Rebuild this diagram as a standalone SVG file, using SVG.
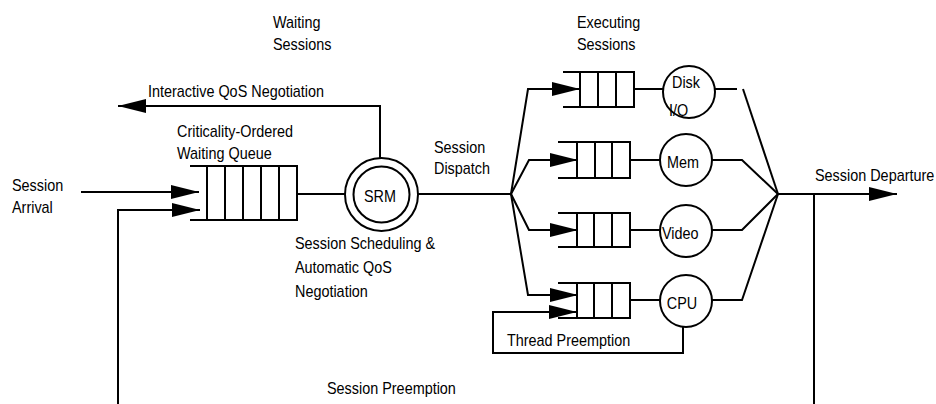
<svg xmlns="http://www.w3.org/2000/svg" width="936" height="404" viewBox="0 0 936 404">
<style>
  .ln{fill:none;stroke:#000;stroke-width:2}
  .q{fill:none;stroke:#000;stroke-width:2}
  .c{fill:#fff;stroke:#000;stroke-width:2}
  .t{font-family:"Liberation Sans",Arial,sans-serif;font-size:16px;fill:#000}
  .m{text-anchor:middle}
</style>
<defs>
  <marker id="ah" markerUnits="userSpaceOnUse" markerWidth="28" markerHeight="14" refX="28" refY="7" orient="auto">
    <path d="M0,0 L28,7 L0,14 z" fill="#000"/>
  </marker>
</defs>
<rect width="936" height="404" fill="#fff"/>

<g id="connectors">
  <path class="ln" d="M380,158 V106 H118" marker-end="url(#ah)"/>
  <path class="ln" d="M81,192 H199" marker-end="url(#ah)"/>
  <path class="ln" d="M118,404 V210 H200" marker-end="url(#ah)"/>
  <path class="ln" d="M297,194 H345"/>
  <path class="ln" d="M418,194 H511"/>
  <path class="ln" d="M511,194 L528,89 H580" marker-end="url(#ah)"/>
  <path class="ln" d="M511,194 L529,160 H578" marker-end="url(#ah)"/>
  <path class="ln" d="M511,194 L529,230 H578" marker-end="url(#ah)"/>
  <path class="ln" d="M511,194 L528,295 H578" marker-end="url(#ah)"/>
  <path class="ln" d="M634,89 H663"/>
  <path class="ln" d="M630,160 H660"/>
  <path class="ln" d="M630,230 H660"/>
  <path class="ln" d="M630,300 H660"/>
  <path class="ln" d="M715,89 H737"/>
  <path class="ln" d="M743,89 L778,194"/>
  <path class="ln" d="M712,160 H742 L778,194"/>
  <path class="ln" d="M712,230 H742 L778,194"/>
  <path class="ln" d="M712,300 H742 L778,194"/>
  <path class="ln" d="M778,194 H897" marker-end="url(#ah)"/>
  <path class="ln" d="M814,194 V404"/>
  <path class="ln" d="M683,327 V353 H493 V312 H577" marker-end="url(#ah)"/>
</g>

<g id="waiting-queue">
  <path class="q" d="M190,166 H297 V220 H190 M207,166 V220 M225,166 V220 M243,166 V220 M261,166 V220 M279,166 V220"/>
</g>

<g id="srm">
  <circle class="c" cx="381.5" cy="194.5" r="36.5"/>
  <circle class="c" cx="381.5" cy="194.5" r="28"/>
  <text class="t m" transform="translate(380 202) scale(0.9 1)">SRM</text>
</g>

<g id="queue-disk">
  <path class="q" d="M563,72 H634 V107 H563 M580,72 V107 M598,72 V107 M616,72 V107"/>
</g>
<g id="disk">
  <circle class="c" cx="689" cy="92" r="26"/>
  <text class="t" transform="translate(672 88) scale(0.9 1)">Disk</text>
  <text class="t" transform="translate(669 116) scale(0.9 1)">I/O</text>
</g>

<g id="queue-mem">
  <path class="q" d="M558,142 H630 V178 H558 M577,142 V178 M595,142 V178 M612,142 V178"/>
</g>
<g id="mem">
  <circle class="c" cx="686" cy="160" r="26"/>
  <text class="t m" transform="translate(683 168) scale(0.9 1)">Mem</text>
</g>

<g id="queue-video">
  <path class="q" d="M558,213 H630 V247 H558 M577,213 V247 M594,213 V247 M612,213 V247"/>
</g>
<g id="video">
  <circle class="c" cx="686" cy="231" r="26"/>
  <text class="t" transform="translate(662 239) scale(0.9 1)">Video</text>
</g>

<g id="queue-cpu">
  <path class="q" d="M558,283 H630 V318 H558 M577,283 V318 M594,283 V318 M612,283 V318"/>
</g>
<g id="cpu">
  <circle class="c" cx="686" cy="301" r="26"/>
  <text class="t m" transform="translate(682 309) scale(0.9 1)">CPU</text>
</g>

<g id="labels">
  <text class="t" transform="translate(273 28) scale(0.9 1)">Waiting</text>
  <text class="t" transform="translate(273 50) scale(0.9 1)">Sessions</text>
  <text class="t" transform="translate(148 97) scale(0.9 1)">Interactive QoS Negotiation</text>
  <text class="t" transform="translate(177 137) scale(0.9 1)">Criticality-Ordered</text>
  <text class="t" transform="translate(177 159) scale(0.9 1)">Waiting Queue</text>
  <text class="t" transform="translate(12 191) scale(0.9 1)">Session</text>
  <text class="t" transform="translate(12 213) scale(0.9 1)">Arrival</text>
  <text class="t" transform="translate(295 249) scale(0.9 1)">Session Scheduling &amp;</text>
  <text class="t" transform="translate(295 273) scale(0.9 1)">Automatic QoS</text>
  <text class="t" transform="translate(295 297) scale(0.9 1)">Negotiation</text>
  <text class="t" transform="translate(327 394) scale(0.9 1)">Session Preemption</text>
  <text class="t" transform="translate(434 153) scale(0.9 1)">Session</text>
  <text class="t" transform="translate(434 174) scale(0.9 1)">Dispatch</text>
  <text class="t" transform="translate(577 28) scale(0.9 1)">Executing</text>
  <text class="t" transform="translate(577 50) scale(0.9 1)">Sessions</text>
  <text class="t" transform="translate(507 346) scale(0.9 1)">Thread Preemption</text>
  <text class="t" transform="translate(815 181) scale(0.9 1)">Session Departure</text>
</g>
</svg>
